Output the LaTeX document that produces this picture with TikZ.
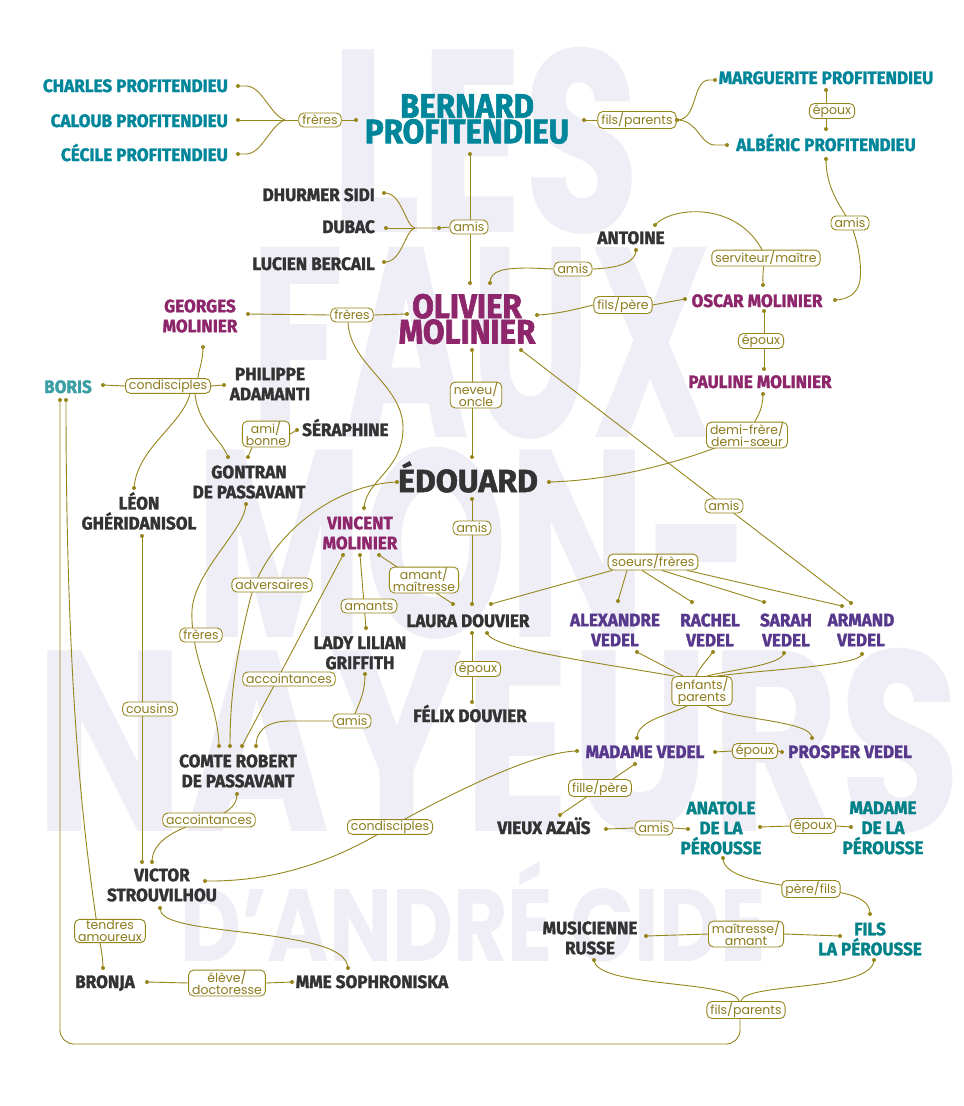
\documentclass[tikz,border=0pt]{standalone}
\usepackage{fontspec}
\usepackage{graphicx}
\usetikzlibrary{calc}
\newfontfamily\namefont[FakeStretch=0.95, BoldFeatures={FakeBold=1.6}]{Fira Sans}
\newfontfamily\bignamefont[FakeStretch=0.92, BoldFeatures={FakeBold=1.8}]{Fira Sans}
\newfontfamily\widefont[BoldFeatures={FakeBold=1.6}]{Fira Sans}
\newfontfamily\labfont{Poppins}
\definecolor{olivec}{RGB}{150,134,28}
\definecolor{labtext}{RGB}{140,124,30}
\definecolor{tealc}{RGB}{0,134,154}
\definecolor{borisc}{RGB}{58,158,165}
\definecolor{tealg}{RGB}{0,130,136}
\definecolor{magc}{RGB}{142,38,108}
\definecolor{violc}{RGB}{88,56,140}
\definecolor{darkc}{RGB}{51,51,51}
\definecolor{bgc}{RGB}{239,237,245}
\pgfdeclarelayer{back}
\pgfdeclarelayer{lines}
\pgfsetlayers{back,lines,main}
\newcommand\mydot[2]{\coordinate (#1) at (#2);\fill[olivec] (#1) circle[radius=2pt];}
\tikzset{
  nm/.style={inner sep=0pt, align=center, font=\namefont\bfseries\fontsize{18}{20}\selectfont},
  nmbig/.style={inner sep=0pt, align=center, font=\bignamefont\bfseries\fontsize{34}{25.5}\selectfont},
  nmedo/.style={inner sep=0pt, align=center, font=\widefont\bfseries\fontsize{32}{34}\selectfont},
  lab/.style={draw=olivec, line width=0.9pt, rounded corners=5pt, fill=white, text=labtext,
    font=\labfont\fontsize{12.5}{12}\selectfont, inner xsep=3.5pt, inner ysep=1pt,
    minimum height=14pt, align=center},
  link/.style={draw=olivec, line width=0.9pt},
  bgtext/.style={anchor=south west, inner sep=0pt, text=bgc}
}
\begin{document}
\begin{tikzpicture}[x=1pt,y=-1pt]
\begin{pgfonlayer}{back}
\fill[white] (0,0) rectangle (964,1106);
\node[bgtext] (bg1) at (330,235) {\resizebox{310pt}{185pt}{\labfont\bfseries LES}};
\node[bgtext] (bg2) at (250,440) {\resizebox{463pt}{190pt}{\labfont\bfseries FAUX}};
\node[bgtext] (bg3) at (195,640) {\resizebox{557pt}{190pt}{\labfont\bfseries MON-}};
\node[bgtext] (bg4) at (35,833) {\resizebox{925pt}{183pt}{\labfont\bfseries NAYEURS}};
\node[bgtext] (bg5) at (180,962) {\resizebox{585pt}{100pt}{\labfont\bfseries D’ANDRÉ GIDE}};
\end{pgfonlayer}
\useasboundingbox (0,0) rectangle (964,1106);

% ---------- names ----------
\node[nm, text=tealc, anchor=base east] (nCharles) at (228,92) {CHARLES PROFITENDIEU};
\node[nm, text=tealc, anchor=base east] (nCaloub) at (228,127) {CALOUB PROFITENDIEU};
\node[nm, text=tealc, anchor=base east] (nCecile) at (228,161) {CÉCILE PROFITENDIEU};
\node[nmbig, text=tealc] (nBernard) at (467,119) {BERNARD\\PROFITENDIEU};
\node[nm, text=tealc, anchor=base] (nMarg) at (826,84) {MARGUERITE PROFITENDIEU};
\node[nm, text=tealc, anchor=base] (nAlb) at (826,151) {ALBÉRIC PROFITENDIEU};
\node[nm, text=darkc, anchor=base east] (nDhu) at (375,201) {DHURMER SIDI};
\node[nm, text=darkc, anchor=base east] (nDub) at (375,233) {DUBAC};
\node[nm, text=darkc, anchor=base east] (nLuc) at (375,270) {LUCIEN BERCAIL};
\node[nm, text=darkc, anchor=base] (nAnt) at (631,244) {ANTOINE};
\node[nmbig, text=magc] (nOli) at (467,319) {OLIVIER\\MOLINIER};
\node[nm, text=magc, anchor=base] (nOsc) at (757,307) {OSCAR MOLINIER};
\node[nm, text=magc, anchor=base] (nPau) at (760,388) {PAULINE MOLINIER};
\node[nm, text=magc] (nGeo) at (200,316) {GEORGES\\MOLINIER};
\node[nm, text=borisc, anchor=base] (nBor) at (68,393) {BORIS};
\node[nm, text=darkc] (nPhi) at (270,384) {PHILIPPE\\ADAMANTI};
\node[nm, text=darkc, anchor=base west] (nSer) at (302,436) {SÉRAPHINE};
\node[nm, text=darkc] (nGon) at (249,482) {GONTRAN\\DE PASSAVANT};
\node[nm, text=darkc] (nLeo) at (139,511) {LÉON\\GHÉRIDANISOL};
\node[nmedo, text=darkc, anchor=base] (nEdo) at (468,492) {ÉDOUARD};
\node[nm, text=magc] (nVin) at (360,533) {VINCENT\\MOLINIER};
\node[nm, text=darkc, anchor=base] (nLau) at (468,627) {LAURA DOUVIER};
\node[nm, text=violc] (nAle) at (615,630) {ALEXANDRE\\VEDEL};
\node[nm, text=violc] (nRac) at (710,630) {RACHEL\\VEDEL};
\node[nm, text=violc] (nSar) at (786,630) {SARAH\\VEDEL};
\node[nm, text=violc] (nArm) at (861,630) {ARMAND\\VEDEL};
\node[nm, text=darkc] (nLil) at (360,653) {LADY LILIAN\\GRIFFITH};
\node[nm, text=darkc, anchor=base] (nFel) at (470,722) {FÉLIX DOUVIER};
\node[nm, text=violc, anchor=base] (nMV) at (645,758) {MADAME VEDEL};
\node[nm, text=violc, anchor=base] (nPro) at (850,758) {PROSPER VEDEL};
\node[nm, text=darkc] (nCom) at (238,771) {COMTE ROBERT\\DE PASSAVANT};
\node[nm, text=darkc, anchor=base] (nAza) at (544,834) {VIEUX AZAÏS};
\node[nm, text=tealg] (nAna) at (721,828) {ANATOLE\\DE LA\\PÉROUSSE};
\node[nm, text=tealg] (nMLP) at (883,828) {MADAME\\DE LA\\PÉROUSSE};
\node[nm, text=darkc] (nVic) at (162,885) {VICTOR\\STROUVILHOU};
\node[nm, text=darkc] (nMus) at (590,938) {MUSICIENNE\\RUSSE};
\node[nm, text=tealg] (nFil) at (870,939) {FILS\\LA PÉROUSSE};
\node[nm, text=darkc, anchor=base] (nBro) at (105,988) {BRONJA};
\node[nm, text=darkc, anchor=base] (nSop) at (372,988) {MME SOPHRONISKA};

% ---------- labels ----------
\node[lab] (lFre1) at (320,120) {frères};
\node[lab] (lFilsPar1) at (637,120) {fils/parents};
\node[lab] (lEp1) at (832,111) {époux};
\node[lab] (lAmisAlb) at (850,223) {amis};
\node[lab] (lAmisBer) at (469,227) {amis};
\node[lab] (lAmisAnt) at (573,269) {amis};
\node[lab] (lServ) at (766,258) {serviteur/maître};
\node[lab] (lFilsPere) at (623,305) {fils/père};
\node[lab] (lFre2) at (352,315) {frères};
\node[lab] (lEp2) at (761,341) {époux};
\node[lab] (lCond1) at (168,386) {condisciples};
\node[lab] (lNeveu) at (476,395) {neveu/\\oncle};
\node[lab] (lAmiBonne) at (266,434) {ami/\\bonne};
\node[lab] (lDemi) at (747,435) {demi-frère/\\demi-sœur};
\node[lab] (lAmisArm) at (724,506) {amis};
\node[lab] (lAmisEdo) at (472,528) {amis};
\node[lab] (lSoeurs) at (653,562) {soeurs/frères};
\node[lab] (lAmant) at (424,580) {amant/\\maîtresse};
\node[lab] (lAdv) at (272,585) {adversaires};
\node[lab] (lAmants) at (369,606) {amants};
\node[lab] (lFre3) at (201,635) {frères};
\node[lab] (lEp3) at (478,669) {époux};
\node[lab] (lAcc1) at (289,679) {accointances};
\node[lab] (lEnf) at (702,691) {enfants/\\parents};
\node[lab] (lCousins) at (150,709) {cousins};
\node[lab] (lAmisLil) at (352,721) {amis};
\node[lab] (lEp4) at (755,751) {époux};
\node[lab] (lFille) at (600,788) {fille/père};
\node[lab] (lAcc2) at (209,820) {accointances};
\node[lab] (lCond2) at (390,827) {condisciples};
\node[lab] (lAmisAza) at (654,828) {amis};
\node[lab] (lEp5) at (813,826) {époux};
\node[lab] (lPere) at (811,889) {père/fils};
\node[lab] (lTendres) at (110,931) {tendres\\amoureux};
\node[lab] (lMait) at (746,934) {maîtresse/\\amant};
\node[lab] (lEleve) at (227,983) {élève/\\doctoresse};
\node[lab] (lFilsPar2) at (746,1010) {fils/parents};

% ---------- dots ----------
\mydot{dCha}{238,86} \mydot{dCal}{238,120} \mydot{dCec}{238,154}
\coordinate (j1) at (285,120);
\mydot{dBer1}{356,120} \mydot{dBer2}{584,120} \mydot{dFP}{677,120}
\mydot{dMar1}{715,80} \mydot{dAlb1}{727,145}
\mydot{dMar2}{826,90} \mydot{dAlb2}{826,129} \mydot{dAlb3}{826,159}
\mydot{dBer3}{470,154} \mydot{dOli1}{470,283}
\mydot{dDhu}{384,193} \mydot{dDub}{386,228} \mydot{dLuc}{384,262}
\coordinate (j2) at (415,228);
\mydot{dAm1}{439,228}
\mydot{dOli2}{490,283} \mydot{dAnt1}{636,250} \mydot{dAnt2}{655,225}
\mydot{dOsc1}{763,285} \mydot{dOli3}{537,315} \mydot{dOsc2}{685,299}
\mydot{dOsc3}{835,300} \mydot{dOsc4}{764,311} \mydot{dPau1}{764,369}
\mydot{dPau2}{763,394} \mydot{dEdo3}{549,482}
\mydot{dOli4}{521,350} \mydot{dArm2}{851,603}
\mydot{dGeo1}{248,314} \mydot{dOli5}{407,314} \mydot{dVin1}{364,508}
\mydot{dGeo2}{203,347} \mydot{dBor1}{103,385} \mydot{dPhi}{224,385}
\mydot{dLeo1}{134,488} \mydot{dGon1}{228,457} \mydot{dSer}{297,430}
\mydot{dGon2}{248,457} \mydot{dGon3}{246,504}
\mydot{dCom1}{219,746} \mydot{dCom2}{230,746} \mydot{dCom3}{242,746} \mydot{dCom5}{256,746}
\mydot{dEdo2}{397,482}
\mydot{dVin2}{343,555} \mydot{dVin3}{360,555} \mydot{dVin4}{379,555}
\mydot{dLil1}{366,628}
\mydot{dLau1}{453,604} \mydot{dLau2}{472,604} \mydot{dLau4}{491,604}
\mydot{dOli6}{472,350} \mydot{dEdo1}{472,457} \mydot{dEdo4}{472,499}
\mydot{dLau3}{472,633} \mydot{dLau5}{487,633} \mydot{dFel}{472,702}
\mydot{dAle1}{618,601} \mydot{dRac1}{692,602} \mydot{dSar1}{764,602} \mydot{dArm1}{842,606}
\mydot{dAle2}{637,652} \mydot{dRac2}{713,652} \mydot{dSar2}{784,653} \mydot{dArm3}{862,654}
\mydot{dMV1}{637,738} \mydot{dPro1}{812,738}
\mydot{dMV2}{715,752} \mydot{dPro2}{782,752}
\mydot{dMV3}{635,764} \mydot{dAza1}{560,815}
\mydot{dAza2}{606,829} \mydot{dAna1}{688,829}
\mydot{dAna2}{760,827} \mydot{dMLP}{851,827}
\mydot{dAna3}{723,858} \mydot{dFil1}{870,914}
\mydot{dMus1}{646,936} \mydot{dFil2}{840,936}
\mydot{dMus2}{594,960} \mydot{dFil3}{874,960}
\mydot{dBor2}{60,400} \mydot{dBor3}{66,400}
\coordinate (cLoop) at (60,1044);
\mydot{dBro1}{103,968} \mydot{dBro2}{147,982} \mydot{dSop1}{292,982}
\mydot{dVic3}{160,908} \mydot{dSop2}{348,968}
\mydot{dCom4}{237,794} \mydot{dVic2}{152,862}
\mydot{dLeo2}{142,536} \mydot{dVic1}{142,862}
\mydot{dVic4}{205,881} \mydot{dMV4}{577,751}
\mydot{dLil2}{365,674}

% ---------- connectors ----------
\begin{pgfonlayer}{lines}
\draw[link] (dCha) -- (246,86) .. controls (262,86) and (270,115) .. (j1);
\draw[link] (dCal) -- (j1);
\draw[link] (dCec) -- (246,154) .. controls (262,154) and (270,125) .. (j1);
\draw[link] (j1) -- (lFre1.west);
\draw[link] (lFre1.east) -- (dBer1);
\draw[link] (dBer2) -- (lFilsPar1.west);
\draw[link] (lFilsPar1.east) -- (dFP);
\draw[link] (dFP) .. controls (698,120) and (692,80) .. (709,80) -- (dMar1);
\draw[link] (dFP) .. controls (698,120) and (700,145) .. (715,145) -- (dAlb1);
\draw[link] (dMar2) -- (dAlb2);
\draw[link] (dAlb3) .. controls (826,190) and (842,208) .. (lAmisAlb.center) .. controls (858,240) and (862,265) .. (860,280) .. controls (858,295) and (845,300) .. (dOsc3);
\draw[link] (dBer3) -- (dOli1);
\draw[link] (dDhu) .. controls (402,192) and (405,226) .. (j2);
\draw[link] (dDub) -- (j2);
\draw[link] (dLuc) .. controls (402,263) and (405,230) .. (j2);
\draw[link] (j2) -- (dAm1) -- (lAmisBer.west);
\draw[link] (dOli2) .. controls (490,270) and (505,268) .. (530,268) -- (lAmisAnt.west);
\draw[link] (lAmisAnt.east) .. controls (620,268) and (636,262) .. (dAnt1);
\draw[link] (dAnt2) .. controls (672,206) and (742,200) .. (lServ.center);
\draw[link] (lServ.center) .. controls (762,270) and (763,278) .. (dOsc1);
\draw[link] (dOli3) .. controls (560,314) and (580,308) .. (lFilsPere.west);
\draw[link] (lFilsPere.east) -- (dOsc2);
\draw[link] (dOsc4) -- (dPau1);
\draw[link] (dPau2) .. controls (763,410) and (757,418) .. (lDemi.center);
\draw[link] (lDemi.center) .. controls (690,460) and (620,480) .. (dEdo3);
\draw[link] (dOli4) -- (dArm2);
\draw[link] (dGeo1) -- (lFre2.west);
\draw[link] (lFre2.east) -- (dOli5);
\draw[link] ($(lFre2.south)+(-4,0)$) .. controls (350,365) and (403,385) .. (403,428) .. controls (403,470) and (366,480) .. (dVin1);
\draw[link] (dGeo2) .. controls (203,362) and (198,372) .. ($(lCond1.north)+(30,0)$);
\draw[link] (dBor1) -- (lCond1.west);
\draw[link] (lCond1.east) -- (dPhi);
\draw[link] ($(lCond1.south)+(22,0)$) .. controls (182,425) and (137,448) .. (dLeo1);
\draw[link] ($(lCond1.south)+(27,0)$) .. controls (198,425) and (222,440) .. (dGon1);
\draw[link] (lAmiBonne.east) -- (dSer);
\draw[link] ($(lAmiBonne.south)+(-14,0)$) -- (dGon2);
\draw[link] (dGon3) .. controls (245,530) and (195,570) .. (192,610) .. controls (190,660) and (218,700) .. (dCom1);
\draw[link] (dEdo2) .. controls (330,485) and (265,540) .. (250,600) .. controls (235,660) and (230,700) .. (dCom2);
\draw[link] (dVin2) -- (dCom3);
\draw[link] (dVin3) -- (dLil1);
\draw[link] (dVin4) -- (dLau1);
\draw[link] (dOli6) -- (dEdo1);
\draw[link] (dEdo4) -- (dLau2);
\draw[link] (dLau3) -- (dFel);
\draw[link] ($(lSoeurs.south)+(-41,0)$) -- (dLau4);
\draw[link] ($(lSoeurs.south)+(-26,0)$) -- (dAle1);
\draw[link] ($(lSoeurs.south)+(-11,0)$) -- (dRac1);
\draw[link] ($(lSoeurs.south)+(9,0)$) -- (dSar1);
\draw[link] ($(lSoeurs.south)+(34,0)$) -- (dArm1);
\draw[link] (dLau5) .. controls (492,648) and (580,660) .. ($(lEnf.north west)+(3,0)$);
\draw[link] (dAle2) -- ($(lEnf.north)+(-19,0)$);
\draw[link] (dRac2) .. controls (705,662) and (698,670) .. ($(lEnf.north)+(-6,0)$);
\draw[link] (dSar2) .. controls (782,665) and (730,670) .. ($(lEnf.north)+(5,0)$);
\draw[link] (dArm3) .. controls (860,666) and (760,670) .. ($(lEnf.north)+(15,0)$);
\draw[link] ($(lEnf.south)+(-15,0)$) .. controls (670,715) and (637,720) .. (dMV1);
\draw[link] ($(lEnf.south)+(5,0)$) .. controls (730,720) and (812,720) .. (dPro1);
\draw[link] (dMV2) -- (lEp4.west);
\draw[link] (lEp4.east) -- (dPro2);
\draw[link] (dMV3) -- (dAza1);
\draw[link] (dAza2) -- (lAmisAza.west);
\draw[link] (lAmisAza.east) -- (dAna1);
\draw[link] (dAna2) -- (lEp5.west);
\draw[link] (lEp5.east) -- (dMLP);
\draw[link] (dAna3) .. controls (723,878) and (770,884) .. (lPere.center) .. controls (850,892) and (870,898) .. (dFil1);
\draw[link] (dMus1) -- (lMait.west);
\draw[link] (lMait.east) -- (dFil2);
\draw[link] (dMus2) .. controls (596,988) and (735,980) .. ($(lFilsPar2.north)+(-7,0)$);
\draw[link] (dFil3) .. controls (872,992) and (745,982) .. ($(lFilsPar2.north)+(-5,0)$);
\draw[link, rounded corners=14pt] ($(lFilsPar2.south)+(-6,0)$) |- (cLoop) -- (dBor2);
\draw[link] (dBor3) .. controls (66,720) and (88,860) .. (97,925) .. controls (100,945) and (103,955) .. (dBro1);
\draw[link] (dBro2) -- (lEleve.west);
\draw[link] (lEleve.east) -- (dSop1);
\draw[link] (dVic3) .. controls (160,922) and (190,926) .. (250,933) .. controls (320,942) and (346,950) .. (dSop2);
\draw[link] (dCom4) .. controls (237,808) and (225,813) .. (lAcc2.center) .. controls (168,830) and (152,845) .. (dVic2);
\draw[link] (dLeo2) -- (dVic1);
\draw[link] (dVic4) .. controls (280,882) and (340,858) .. (lCond2.center) .. controls (440,800) and (530,752) .. (dMV4);
\draw[link] (dLil2) .. controls (365,695) and (358,705) .. (lAmisLil.center);
\draw[link] (lAmisLil.west) -- (290,721) .. controls (262,721) and (256,735) .. (dCom5);
\end{pgfonlayer}
\end{tikzpicture}
\end{document}
